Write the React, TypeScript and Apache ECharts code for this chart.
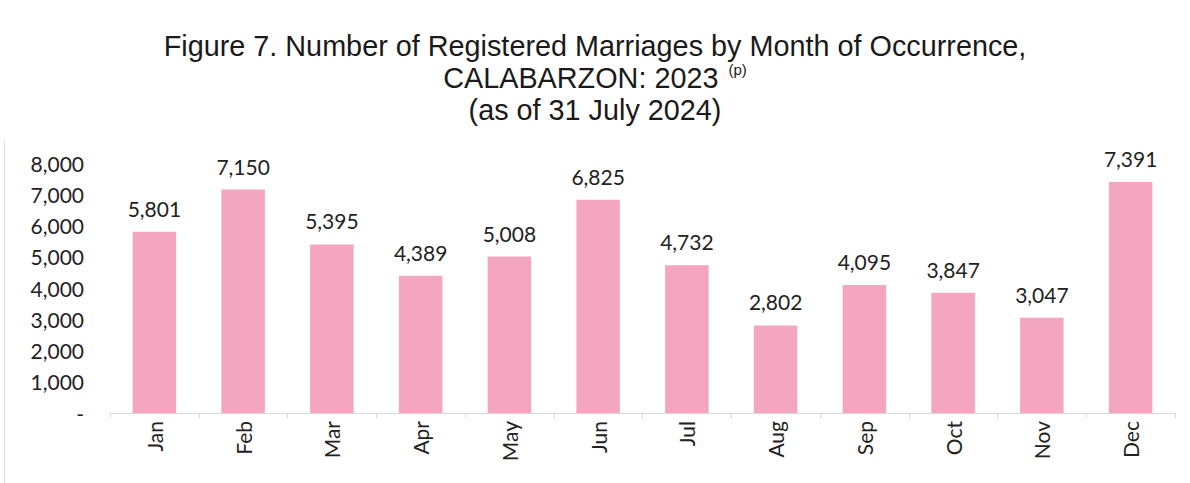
import React, { useEffect, useRef } from "react";
import * as echarts from "echarts";

const months = ["Jan", "Feb", "Mar", "Apr", "May", "Jun", "Jul", "Aug", "Sep", "Oct", "Nov", "Dec"];
const marriages = [5801, 7150, 5395, 4389, 5008, 6825, 4732, 2802, 4095, 3847, 3047, 7391];
const titleLines = [
  "Figure 7. Number of Registered Marriages by Month of Occurrence,",
  "CALABARZON: 2023 {sup|(p)}",
  "(as of 31 July 2024)",
];

export default function App() {
  const ref = useRef<HTMLDivElement>(null);
  useEffect(() => {
    const chart = echarts.init(ref.current!, null, { renderer: "svg" });
    chart.setOption({
      animation: false,
      backgroundColor: "#ffffff",
      title: {
        text: titleLines.join("\n"),
        left: "center",
        top: 30,
        padding: 0,
        textStyle: {
          fontFamily: "Liberation Sans",
          fontSize: 28.8,
          fontWeight: "normal",
          color: "#1a1a1a",
          lineHeight: 32,
          rich: {
            sup: {
              fontFamily: "Liberation Sans",
              fontSize: 15,
              color: "#1a1a1a",
              verticalAlign: "top",
              padding: [0, 0, 10, 2],
            },
          },
        },
      },
      graphic: [
        {
          type: "line",
          shape: { x1: 4.5, y1: 140, x2: 4.5, y2: 483 },
          style: { stroke: "#e0e0e0", lineWidth: 1 },
        },
      ],
      grid: { left: 110, right: 15, top: 163, bottom: 70 },
      xAxis: {
        type: "category",
        data: months,
        axisLine: { show: true, lineStyle: { color: "#d9d9d9" } },
        axisTick: { show: true, alignWithLabel: false, length: 5, lineStyle: { color: "#d9d9d9" } },
        axisLabel: {
          rotate: 90,
          fontFamily: "Lato",
          fontSize: 21,
          color: "#222",
          margin: 8,
        },
      },
      yAxis: {
        type: "value",
        min: 0,
        max: 8000,
        interval: 1000,
        splitLine: { show: false },
        axisLine: { show: false },
        axisTick: { show: false },
        axisLabel: {
          fontFamily: "Lato",
          fontSize: 21,
          color: "#222",
          margin: 26,
          formatter: (v: number) => (v === 0 ? "-" : v.toLocaleString("en-US")),
        },
      },
      series: [
        {
          type: "bar",
          data: marriages,
          barWidth: "49%",
          itemStyle: { color: "#f4a5c0" },
          label: {
            show: true,
            position: "top",
            distance: 13,
            fontFamily: "Lato",
            fontSize: 21,
            color: "#222",
            formatter: (p: any) => Number(p.value).toLocaleString("en-US"),
          },
        },
      ],
    });
    return () => chart.dispose();
  }, []);
  return (
    <div
      ref={ref}
      style={{ position: "fixed", left: 0, top: 0, width: 1190, height: 483 }}
    />
  );
}
